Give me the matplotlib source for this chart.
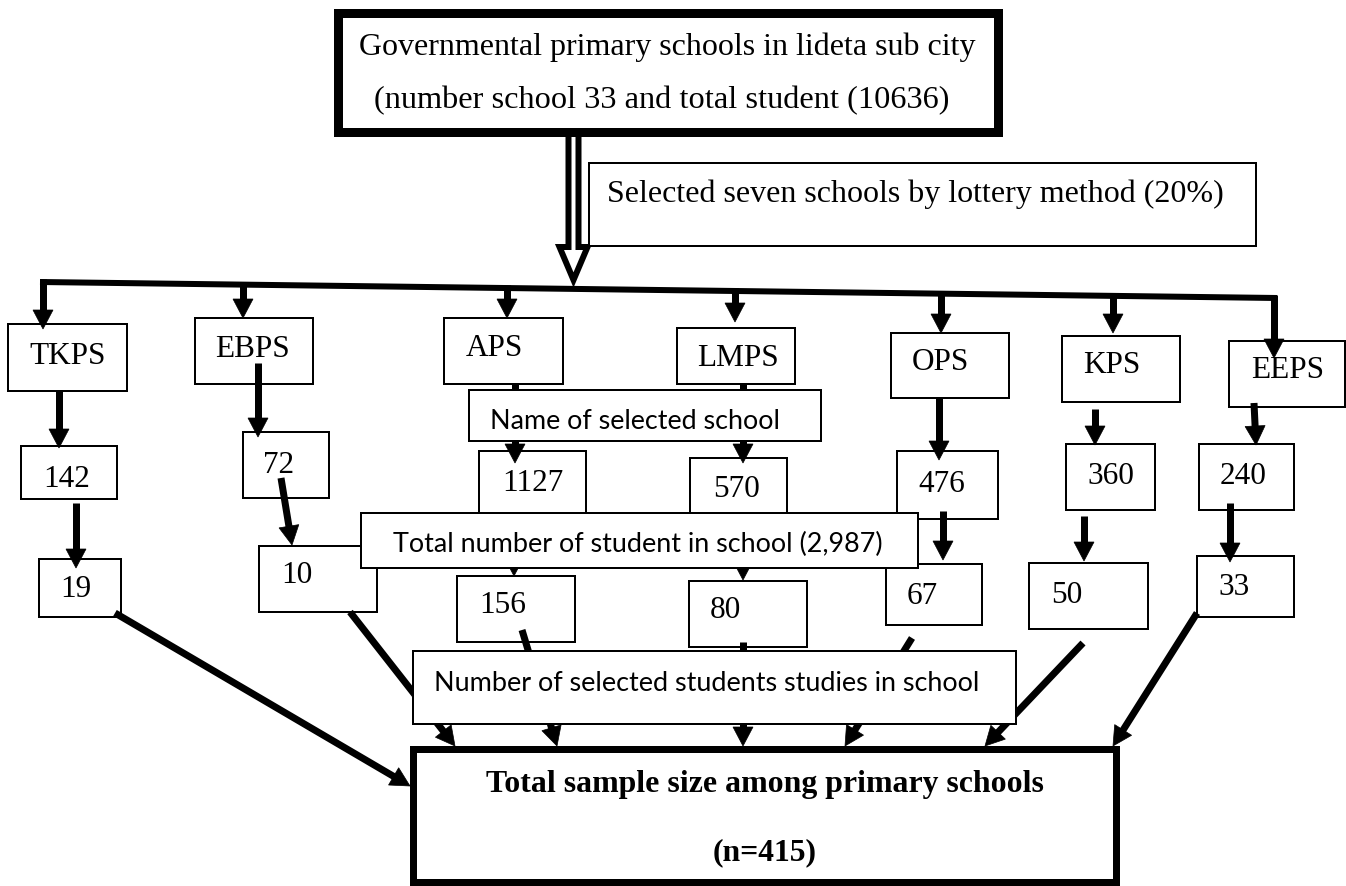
import matplotlib
matplotlib.use("Agg")
import matplotlib.pyplot as plt
from matplotlib.patches import Rectangle, Polygon
import numpy as np

# ---------------- data ----------------
top_lines = ["Governmental primary schools in lideta sub city",
             "(number school 33 and total student (10636)"]
selection_note = "Selected seven schools by lottery method (20%)"
schools = ["TKPS", "EBPS", "APS", "LMPS", "OPS", "KPS", "EEPS"]
total_students = [142, 72, 1127, 570, 476, 360, 240]
sample_students = [19, 10, 156, 80, 67, 50, 33]
name_label = "Name of selected school"
total_label = "Total number of student in school (2,987)"
sample_label = "Number of selected students studies in school"
final_lines = ["Total sample size among primary schools", "(n=415)"]

# ---------------- layout (pixel coordinates, y down) ----------------
W, H = 1346, 886
fig = plt.figure(figsize=(W / 100, H / 100), dpi=100)
ax = fig.add_axes([0, 0, 1, 1])
ax.set_xlim(0, W)
ax.set_ylim(H, 0)
ax.axis("off")

PX = 0.72  # px -> pt
SERIF = "Liberation Serif"
SANS = "Lato"

def box(x0, x1, y0, y1, lw_px=2, z=2):
    ax.add_patch(Rectangle((x0, y0), x1 - x0, y1 - y0, facecolor="white",
                           edgecolor="black", lw=lw_px * PX, zorder=z,
                           joinstyle="miter"))

def arrow(x0, y0, x1, y1, shaft=6, hw=20, hl=19, z=3):
    d = np.array([x1 - x0, y1 - y0], float)
    L = np.hypot(*d)
    u = d / L
    n = np.array([-u[1], u[0]])
    base = np.array([x1, y1]) - u * hl
    ax.plot([x0, base[0] + u[0] * 2], [y0, base[1] + u[1] * 2], color="black",
            lw=shaft * PX, solid_capstyle="butt", zorder=z)
    tri = [(x1, y1), tuple(base + n * hw / 2), tuple(base - n * hw / 2)]
    ax.add_patch(Polygon(tri, closed=True, facecolor="black", edgecolor="black",
                         lw=0.5, zorder=z))

renderer = fig.canvas.get_renderer()

def fit_text(s, x, y, width, family, ha="left", weight="normal", z=6):
    t = ax.text(x, y, s, ha=ha, va="baseline", family=family,
                fontsize=20, weight=weight, zorder=z, color="black")
    w = t.get_window_extent(renderer).width
    t.set_fontsize(20 * width / w)
    return t

def label(s, x, y, size=22.5, z=6):
    ax.text(x, y, s, ha="left", va="baseline", family=SERIF, fontsize=size,
            zorder=z, color="black")

# top box
box(338, 998, 13, 132, lw_px=9, z=4)
fit_text(top_lines[0], 667, 55, 616, SERIF, ha="center")
fit_text(top_lines[1], 662, 108, 575, SERIF, ha="center")

# hollow block arrow
cx = 573.5
hollow = [(cx - 5, 130), (cx + 5, 130), (cx + 5, 247), (cx + 14, 247),
          (cx, 280), (cx - 14, 247), (cx - 5, 247)]
ax.add_patch(Polygon(hollow, closed=True, facecolor="white", edgecolor="black",
                     lw=6 * PX, joinstyle="miter", zorder=3))

# selection note box
box(589, 1256, 163, 246, lw_px=2, z=4)
fit_text(selection_note, 607, 202, 617, SERIF)

# distribution line
line_x = [40, 1277]
line_y = [282, 298]
ax.plot(line_x, line_y, color="black", lw=6 * PX, solid_capstyle="butt", zorder=3)

def line_y_at(x):
    return line_y[0] + (line_y[1] - line_y[0]) * (x - line_x[0]) / (line_x[1] - line_x[0])

# school boxes
school_boxes = [(8, 127, 324, 391), (195, 313, 318, 384), (444, 563, 318, 384),
                (677, 795, 328, 384), (891, 1009, 333, 398), (1062, 1180, 336, 402),
                (1229, 1345, 341, 407)]
school_text = [(29, 364), (215, 357), (466, 356), (697, 366), (912, 370),
               (1083, 373), (1251, 378)]
drop_x = [43, 243, 507, 735, 941, 1113, 1274]
drop_tip = [329, 318, 318, 322, 333, 333, 358]

for (x0, x1, y0, y1), (tx, ty), name in zip(school_boxes, school_text, schools):
    box(x0, x1, y0, y1)
    label(name, tx, ty)
for dx, tip in zip(drop_x, drop_tip):
    arrow(dx, line_y_at(dx) - 3, dx, tip, shaft=7, hw=20, hl=19)

# total-student boxes
total_boxes = [(21, 117, 446, 499), (243, 329, 432, 498), (479, 586, 451, 520),
               (690, 787, 458, 520), (897, 998, 451, 519), (1066, 1155, 444, 510),
               (1199, 1294, 444, 510)]
total_text = [(43, 487), (263, 473), (502, 491), (713, 497), (918, 492),
              (1087, 484), (1220, 484)]
for (x0, x1, y0, y1), (tx, ty), v in zip(total_boxes, total_text, total_students):
    box(x0, x1, y0, y1)
    label(str(v), tx, ty)

school_to_total = [((59, 391), (59, 448)), ((258, 363), (258, 437)),
                   ((515, 384), (515, 463)), ((743, 384), (743, 463)),
                   ((939, 398), (939, 460)), ((1095, 409), (1095, 445)),
                   ((1254, 403), (1256, 445))]
for (a, b) in school_to_total:
    arrow(a[0], a[1], b[0], b[1], shaft=7, hw=20, hl=19)

# sample boxes
sample_boxes = [(39, 121, 559, 617), (259, 377, 546, 612), (457, 575, 576, 642),
                (689, 807, 581, 647), (886, 982, 564, 625), (1029, 1148, 563, 629),
                (1197, 1294, 556, 617)]
sample_text = [(60, 597), (281, 583), (479, 613), (710, 618), (907, 604),
               (1051, 603), (1218, 595)]
for (x0, x1, y0, y1), (tx, ty), v in zip(sample_boxes, sample_text, sample_students):
    box(x0, x1, y0, y1)
    label(str(v), tx, ty)

total_to_sample = [((76, 503), (76, 568)), ((281, 478), (292, 545)),
                   ((514, 513), (514, 576)), ((743, 513), (743, 580)),
                   ((943, 511), (943, 560)), ((1084, 516), (1084, 561)),
                   ((1230, 503), (1230, 562))]
for (a, b) in total_to_sample:
    arrow(a[0], a[1], b[0], b[1], shaft=7, hw=20, hl=19)

sample_to_final = [((115, 613), (410, 786)), ((350, 612), (455, 746)),
                   ((522, 630), (557, 746)), ((743, 642), (743, 746)),
                   ((912, 638), (845, 746)), ((1083, 643), (985, 746)),
                   ((1197, 613), (1113, 746))]
for (a, b) in sample_to_final:
    arrow(a[0], a[1], b[0], b[1], shaft=7, hw=20, hl=19)

# overlay caption boxes
box(469, 821, 390, 441, z=4)
fit_text(name_label, 490, 429, 290, SANS)
box(361, 918, 513, 568, z=4)
fit_text(total_label, 393, 552, 492, SANS)
box(413, 1016, 651, 724, z=4)
fit_text(sample_label, 434, 691, 548, SANS)

# final box
box(413, 1116, 749, 882, lw_px=7, z=2)
fit_text(final_lines[0], 765, 792, 558, SERIF, ha="center", weight="bold")
fit_text(final_lines[1], 765, 860, 104, SERIF, ha="center", weight="bold")

fig.savefig("out.png", dpi=100, facecolor="white")
